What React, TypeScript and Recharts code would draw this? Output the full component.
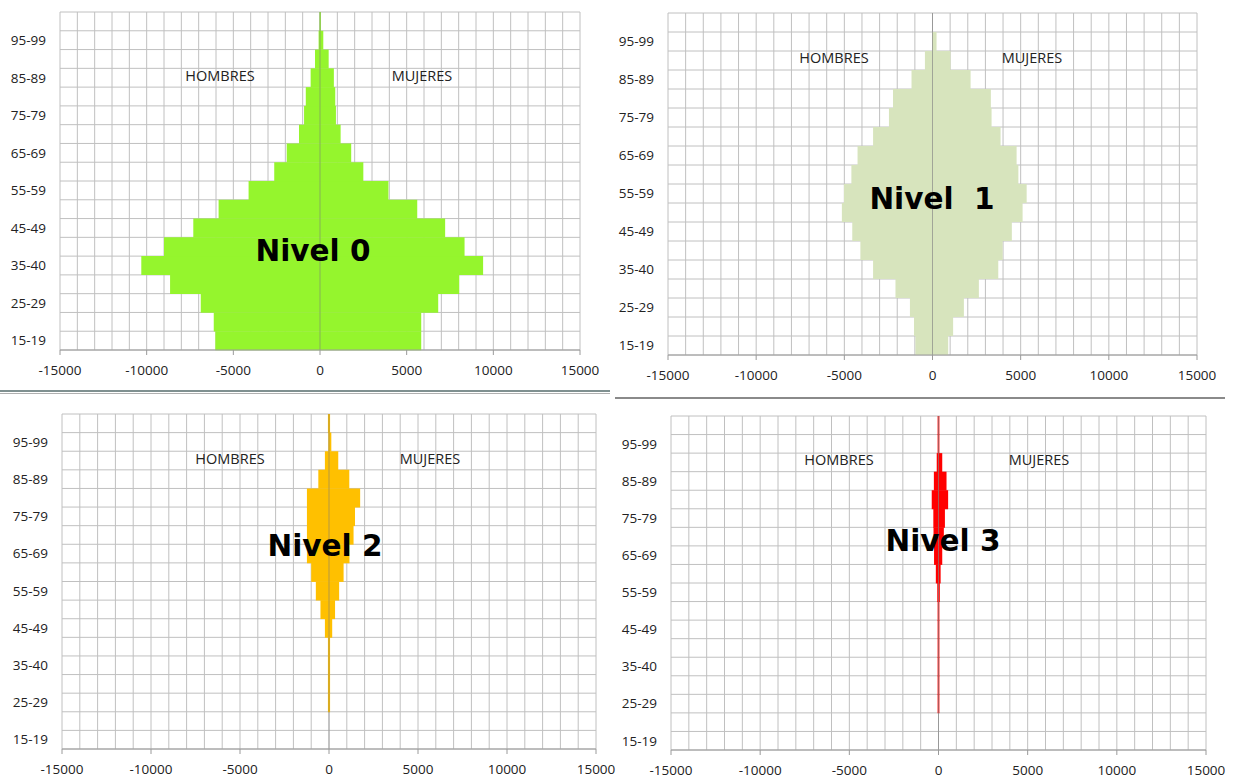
import React from "react";
import { BarChart, Bar, XAxis, YAxis, CartesianGrid, ReferenceLine } from "recharts";

// age groups, bottom to top
const ages = [
  "15-19", "20-24", "25-29", "30-34", "35-40", "40-44", "45-49", "50-54", "55-59",
  "60-64", "65-69", "70-74", "75-79", "80-84", "85-89", "90-94", "95-99", "100+",
];

const xTicks = [-15000, -10000, -5000, 0, 5000, 10000, 15000];
const xMin = -15000;
const xMax = 15000;
const gridStep = 1000;

const nivel0Hombres = [-6040, -6130, -6880, -8650, -10310, -9000, -7310, -5850, -4120, -2640, -1920, -1210, -920, -820, -540, -290, -80, -30];
const nivel0Mujeres = [5840, 5840, 6820, 8030, 9410, 8340, 7220, 5610, 3950, 2500, 1800, 1190, 920, 880, 800, 500, 190, 50];

const nivel1Hombres = [-970, -1050, -1280, -2100, -3370, -4090, -4550, -5140, -5020, -4600, -4250, -3370, -2470, -2240, -1190, -430, -20, 0];
const nivel1Mujeres = [890, 1170, 1780, 2630, 3730, 3980, 4500, 5110, 5340, 4870, 4770, 3860, 3350, 3310, 2160, 1020, 230, 0];

const nivel2Hombres = [0, 0, -60, -60, -60, -60, -230, -480, -740, -1000, -1240, -1240, -1240, -1240, -600, -230, -40, -60];
const nivel2Mujeres = [0, 0, 60, 60, 60, 60, 180, 340, 570, 820, 1150, 1380, 1460, 1750, 1140, 520, 130, 60];

const nivel3Hombres = [0, 0, -50, -50, -50, -50, -50, -50, -70, -150, -250, -280, -290, -380, -260, -100, -50, -50];
const nivel3Mujeres = [0, 0, 50, 50, 50, 50, 50, 50, 75, 120, 210, 300, 360, 540, 450, 210, 50, 50];

const gridColor = "#c0c0c0";
const textColor = "#222";
const tickFont = { fontFamily: "'Open Sans', sans-serif", fontSize: 13.5, fill: textColor };

type Pt = { x: number; y: number };

interface PanelProps {
  title: string;
  hombres: number[];
  mujeres: number[];
  color: string;
  left: number;
  top: number;
  width: number;
  height: number;
  axisWidth: number;
  axisHeight: number;
  marginTop: number;
  marginRight: number;
  hombresAt: Pt;
  mujeresAt: Pt;
  titleAt: Pt;
}

const centered = (p: Pt): React.CSSProperties => ({
  position: "absolute",
  left: p.x,
  top: p.y,
  transform: "translate(-50%, -50%)",
  whiteSpace: "pre",
  lineHeight: 1,
})

function Pyramid(p: PanelProps) {
  const data = ages.map((age, i) => ({ age, hombres: p.hombres[i], mujeres: p.mujeres[i] }));

  // grid every 1000 across, and on the row edges (not the row centres)
  const vGrid = ({ offset }: any) => {
    const out: number[] = [];
    for (let v = xMin; v <= xMax; v += gridStep) {
      out.push(offset.left + ((v - xMin) / (xMax - xMin)) * offset.width);
    }
    return out;
  };
  const hGrid = ({ offset }: any) =>
    Array.from({ length: ages.length + 1 }, (_, i) => offset.top + (i * offset.height) / ages.length);

  return (
    <>
      <div style={{ position: "absolute", left: p.left, top: p.top }}>
        <BarChart
          width={p.width}
          height={p.height}
          data={data}
          layout="vertical"
          stackOffset="sign"
          barCategoryGap={0}
          barGap={0}
          margin={{ top: p.marginTop, right: p.marginRight, bottom: 0, left: 0 }}
        >
          <CartesianGrid
            stroke={gridColor}
            verticalCoordinatesGenerator={vGrid}
            horizontalCoordinatesGenerator={hGrid}
          />
          <XAxis
            type="number"
            domain={[xMin, xMax]}
            ticks={xTicks}
            height={p.axisHeight}
            tick={tickFont}
            tickSize={5}
            tickMargin={10}
            tickLine={{ stroke: "#9a9a9a" }}
            axisLine={{ stroke: "#9a9a9a" }}
            allowDataOverflow
          />
          <YAxis
            type="category"
            dataKey="age"
            reversed
            width={p.axisWidth}
            interval={1}
            tick={tickFont}
            tickLine={false}
            tickSize={0}
            tickMargin={14}
            axisLine={false}
          />
          <Bar dataKey="hombres" stackId="a" fill={p.color} isAnimationActive={false} />
          <Bar dataKey="mujeres" stackId="a" fill={p.color} isAnimationActive={false} />
          <ReferenceLine x={0} stroke="rgba(120,120,120,0.55)" strokeWidth={1} />
        </BarChart>
      </div>
      <div style={{ ...centered(p.hombresAt), fontFamily: "'Open Sans', sans-serif", fontSize: 14.5, color: textColor }}>
        HOMBRES
      </div>
      <div style={{ ...centered(p.mujeresAt), fontFamily: "'Open Sans', sans-serif", fontSize: 14.5, color: textColor }}>
        MUJERES
      </div>
      <div style={{ ...centered(p.titleAt), fontFamily: "'DejaVu Sans', sans-serif", fontWeight: 700, fontSize: 29.5, color: "#000" }}>
        {p.title}
      </div>
    </>
  );
}

export default function App() {
  return (
    <div style={{ position: "absolute", left: 0, top: 0, width: 1234, height: 784, background: "#fff", overflow: "hidden" }}>
      <Pyramid
        title="Nivel 0"
        hombres={nivel0Hombres}
        mujeres={nivel0Mujeres}
        color="#95f52d"
        left={0}
        top={0}
        width={610}
        height={390}
        axisWidth={60}
        axisHeight={40}
        marginTop={12}
        marginRight={30}
        hombresAt={{ x: 220, y: 76 }}
        mujeresAt={{ x: 422, y: 76 }}
        titleAt={{ x: 313, y: 252 }}
      />
      <Pyramid
        title="Nivel  1"
        hombres={nivel1Hombres}
        mujeres={nivel1Mujeres}
        color="#d7e4bd"
        left={615}
        top={0}
        width={615}
        height={395}
        axisWidth={53}
        axisHeight={40}
        marginTop={13}
        marginRight={33}
        hombresAt={{ x: 834, y: 58 }}
        mujeresAt={{ x: 1032, y: 58 }}
        titleAt={{ x: 932, y: 200 }}
      />
      <Pyramid
        title="Nivel 2"
        hombres={nivel2Hombres}
        mujeres={nivel2Mujeres}
        color="#ffc000"
        left={0}
        top={400}
        width={620}
        height={384}
        axisWidth={62}
        axisHeight={35}
        marginTop={14}
        marginRight={24}
        hombresAt={{ x: 230, y: 459 }}
        mujeresAt={{ x: 430, y: 459 }}
        titleAt={{ x: 325, y: 547 }}
      />
      <Pyramid
        title="Nivel 3"
        hombres={nivel3Hombres}
        mujeres={nivel3Mujeres}
        color="#ff0000"
        left={615}
        top={400}
        width={619}
        height={384}
        axisWidth={56}
        axisHeight={34}
        marginTop={16}
        marginRight={28}
        hombresAt={{ x: 839, y: 460 }}
        mujeresAt={{ x: 1039, y: 460 }}
        titleAt={{ x: 943, y: 542 }}
      />
      {/* panel separators */}
      <div style={{ position: "absolute", left: 0, top: 390, width: 610, height: 2, background: "#7f9090" }} />
      <div style={{ position: "absolute", left: 0, top: 393, width: 610, height: 1, background: "#b0b0b0" }} />
      <div style={{ position: "absolute", left: 615, top: 397, width: 610, height: 2, background: "#8a8a8a" }} />
    </div>
  );
}
